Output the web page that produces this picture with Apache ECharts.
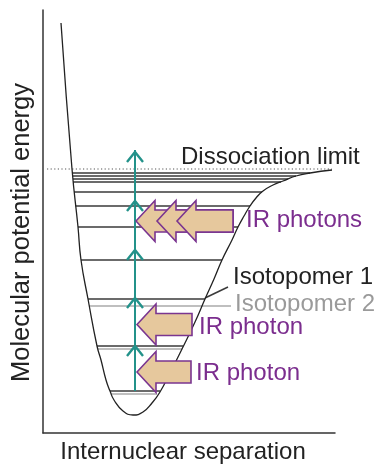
<!DOCTYPE html>
<html>
<head>
<meta charset="utf-8">
<script src="https://cdn.jsdelivr.net/npm/echarts@6/dist/echarts.min.js"></script>
<style>html,body{margin:0;padding:0;background:#fff;}#c{width:380px;height:464px;}</style>
</head>
<body>
<div id="c"></div>
<script>
// Schematic units: separation (x) and energy (y)
var curve = [[18,410],[29,264],[35,206],[38,173],[45,134],[54,87],[58,73],[63,53],[67,42],[71,33],[80,22],[90,18],[100,21],[109,30],[117,41],[127,60],[140,86],[152,111],[162,134],[171,154],[179,173],[189,193],[195,206],[201,217],[207,227],[213,235],[220,242],[230,248],[240,252],[253,257],[267,260],[289,263]];
var dissociationE = 264;
var dissociationX = [4, 289];
// isotopomer 1 levels: energy, left end, right end
var levels1E = [260,257,254,251,241,227,206,173,134,87,42];
var levels1L = [29,29.5,30,30,31,32.5,35,38,45,54,67];
var levels1R = [267,253,245,238,219,207,195,179,162,140,117];
// isotopomer 2 levels
var levels2E = [127,84,39];
var levels2L = [46,55,68];
var levels2R = [188,139,114];
var leader1 = [[162,135],[185,146]];
// vertical excitation arrow
var exciteX = 92;
var exciteFrom = 42, exciteTo = 283;
var chevronE = [281,232,183,135,87];
// IR photon block arrows: tip x, energy, tail x
var photonTipX = [93,114,134,94,94];
var photonE = [212,212,212,108.5,61];
var photonTailX = [190,190,190,149,148];
var labels = ['Dissociation limit','IR photons','Isotopomer 1','Isotopomer 2','IR photon','IR photon'];

var chart = echarts.init(document.getElementById('c'));
var FONT = '"Liberation Sans", Arial, sans-serif';
var levelSeg1 = levels1E.map(function(e,i){return {coords:[[levels1L[i],e],[levels1R[i],e]]};});
var levelSeg2 = levels2E.map(function(e,i){return {coords:[[levels2L[i],e],[levels2R[i],e]]};});
var photons = photonTipX.map(function(t,i){return [t, photonE[i], photonTailX[i]];});

chart.setOption({
  animation:false,
  grid:{left:43,right:45,top:10,bottom:31,containLabel:false,outerBoundsMode:'none'},
  xAxis:{type:'value',min:0,max:292,
    axisLine:{show:true,lineStyle:{color:'#333',width:1.5}},axisTick:{show:false},axisLabel:{show:false},splitLine:{show:false},
    name:'Internuclear separation',nameLocation:'middle',nameGap:7,
    nameTextStyle:{fontSize:24,color:'#222',fontFamily:FONT,padding:[0,12,0,0]}},
  yAxis:{type:'value',min:0,max:423,
    axisLine:{show:true,lineStyle:{color:'#333',width:1.5}},axisTick:{show:false},axisLabel:{show:false},splitLine:{show:false},
    name:'Molecular potential energy',nameLocation:'middle',nameGap:8,
    nameTextStyle:{fontSize:25.5,color:'#222',fontFamily:FONT,padding:[0,22,0,0]}},
  series:[
    {type:'line',data:[[dissociationX[0],dissociationE],[dissociationX[1],dissociationE]],symbol:'none',
      lineStyle:{color:'#555',width:1.2,type:[1.2,2.4]},z:1},
    {type:'lines',coordinateSystem:'cartesian2d',data:levelSeg2,lineStyle:{color:'#aaa',width:1.6,opacity:1},z:2},
    {type:'lines',coordinateSystem:'cartesian2d',data:levelSeg1.concat([{coords:leader1}]),lineStyle:{color:'#3a3a3a',width:1.5,opacity:1},z:3},
    {type:'line',data:curve,symbol:'none',smooth:0.5,lineStyle:{color:'#222',width:1.3},z:4},
    {type:'line',data:[[exciteX,exciteFrom],[exciteX,exciteTo]],symbol:'none',lineStyle:{color:'#23928a',width:2},z:5},
    {type:'custom',z:6,data:chevronE.map(function(e){return [exciteX,e];}),
      renderItem:function(params,api){
        var p=api.coord([api.value(0),api.value(1)]);
        return {type:'polyline',shape:{points:[[p[0]-8,p[1]+10],[p[0],p[1]],[p[0]+8,p[1]+10]]},
          style:{stroke:'#23928a',lineWidth:2.4,fill:null}};
      }},
    {type:'custom',z:7,data:photons,
      renderItem:function(params,api){
        var tip=api.coord([api.value(0),api.value(1)]);
        var tail=api.coord([api.value(2),api.value(1)]);
        var hl=19,hh=20.5,sh=11,x=tip[0],y=tip[1],tx=tail[0];
        return {type:'polygon',shape:{points:[[x,y],[x+hl,y-hh],[x+hl,y-sh],[tx,y-sh],[tx,y+sh],[x+hl,y+sh],[x+hl,y+hh]]},
          style:{fill:'#e6c89d',stroke:'#7a3590',lineWidth:1.6}};
      }}
  ],
  graphic:[
    {type:'text',x:181,y:157,style:{text:labels[0],font:'24px '+FONT,fill:'#222',textAlign:'left',align:'left',textVerticalAlign:'middle',verticalAlign:'middle'}},
    {type:'text',x:246,y:220,style:{text:labels[1],font:'24px '+FONT,fill:'#7b2d8e',textAlign:'left',align:'left',textVerticalAlign:'middle',verticalAlign:'middle'}},
    {type:'text',x:233,y:277,style:{text:labels[2],font:'24px '+FONT,fill:'#222',textAlign:'left',align:'left',textVerticalAlign:'middle',verticalAlign:'middle'}},
    {type:'text',x:235,y:304.5,style:{text:labels[3],font:'24px '+FONT,fill:'#9a9a9a',textAlign:'left',align:'left',textVerticalAlign:'middle',verticalAlign:'middle'}},
    {type:'text',x:199,y:327,style:{text:labels[4],font:'24px '+FONT,fill:'#7b2d8e',textAlign:'left',align:'left',textVerticalAlign:'middle',verticalAlign:'middle'}},
    {type:'text',x:196,y:373,style:{text:labels[5],font:'24px '+FONT,fill:'#7b2d8e',textAlign:'left',align:'left',textVerticalAlign:'middle',verticalAlign:'middle'}}
  ]
});
</script>
</body>
</html>
